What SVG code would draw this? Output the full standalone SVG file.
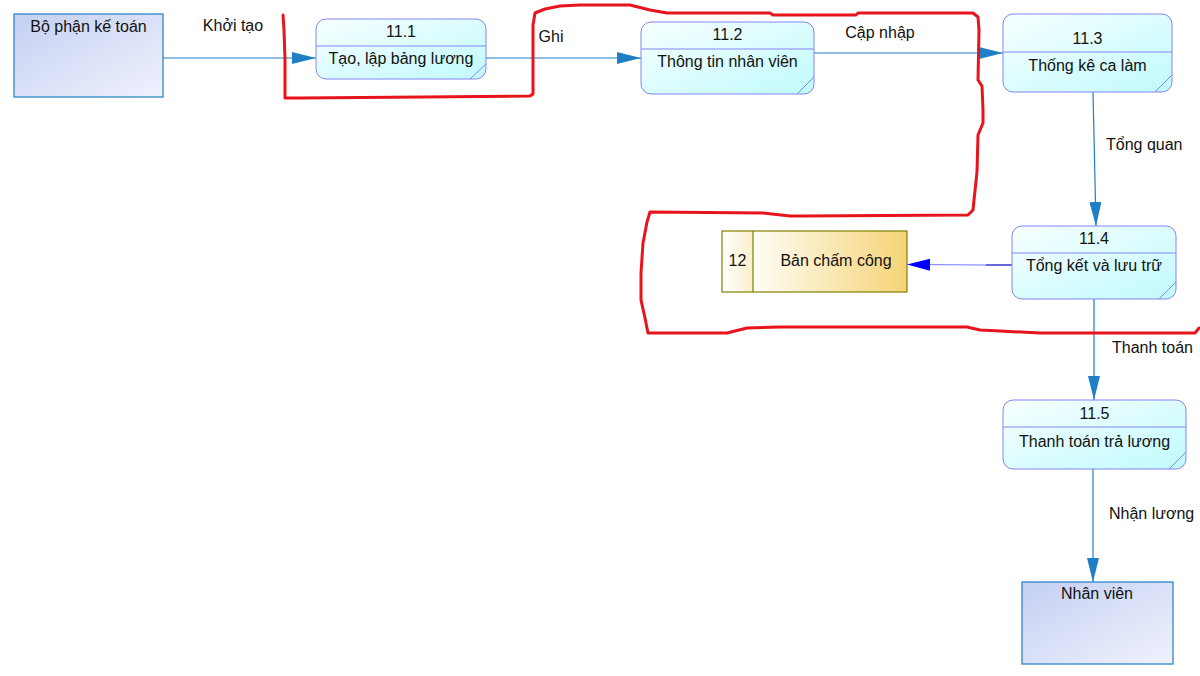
<svg xmlns="http://www.w3.org/2000/svg" width="1200" height="676" viewBox="0 0 1200 676">
<style>
text{font-family:"Liberation Sans",Arial,sans-serif;font-size:16px;fill:#111}
.c{text-anchor:middle}
.proc{fill:url(#procGrad);stroke:#8585f5;stroke-width:1}
.div{stroke:#8585f5;stroke-width:1}
.fold{stroke:#8585f5;stroke-width:1;fill:none}
.ent{fill:url(#entGrad);stroke:#1f7fc4;stroke-width:1.2}
.flow{stroke:#1f7fc4;stroke-width:1.2;fill:none;marker-end:url(#arr)}
.red{fill:none;stroke:#e8141c;stroke-width:3;stroke-linejoin:round;stroke-linecap:round}
</style>
<defs>
<linearGradient id="procGrad" x1="0" y1="0" x2="1" y2="1">
<stop offset="0" stop-color="#f8ffff"/>
<stop offset="1" stop-color="#c0fafd"/>
</linearGradient>
<linearGradient id="entGrad" x1="0" y1="0" x2="1" y2="1">
<stop offset="0" stop-color="#c4d0f2"/>
<stop offset="1" stop-color="#f0f2fd"/>
</linearGradient>
<linearGradient id="storeGrad" x1="0" y1="0" x2="1" y2="0">
<stop offset="0" stop-color="#fffdf6"/>
<stop offset="1" stop-color="#f5d375"/>
</linearGradient>
<linearGradient id="cellGrad" x1="0" y1="0" x2="1" y2="0">
<stop offset="0" stop-color="#ffffff"/>
<stop offset="1" stop-color="#fbefcc"/>
</linearGradient>
<marker id="arr" markerUnits="userSpaceOnUse" markerWidth="26" markerHeight="14" refX="24" refY="6" orient="auto">
<path d="M0,0 L24,6 L0,12 z" fill="#1f7fc4"/>
</marker>
<marker id="arrB" markerUnits="userSpaceOnUse" markerWidth="26" markerHeight="14" refX="23" refY="6" orient="auto">
<path d="M0,0 L23,6 L0,12 z" fill="#0000ff"/>
</marker>
</defs>
<rect width="1200" height="676" fill="#ffffff"/>

<g id="connectors">
<path class="flow" d="M163,58 H316"/>
<path class="flow" d="M486,58 H641"/>
<path class="flow" d="M814,53 H1003"/>
<path class="flow" d="M1093,92 L1096,226"/>
<path class="flow" d="M1094,299 V400"/>
<path class="flow" d="M1093,469 V582"/>
<path d="M1012,265 H986" stroke="#0000cc" stroke-width="1.2" fill="none"/>
<path d="M986,265 L907,264.5" stroke="#7878ff" stroke-width="1.2" fill="none" marker-end="url(#arrB)"/>
<text x="233" y="31" class="c">Khởi tạo</text>
<text x="551" y="42" class="c">Ghi</text>
<text x="880" y="38" class="c">Cập nhập</text>
<text x="1106" y="150">Tổng quan</text>
<text x="1112" y="353">Thanh toán</text>
<text x="1109" y="519">Nhận lương</text>
</g>

<g id="ke-toan">
<rect class="ent" x="14" y="14" width="149" height="83"/>
<text x="88.5" y="32" class="c">Bộ phận kế toán</text>
</g>

<g id="p11-1">
<rect class="proc" x="316" y="19" width="170" height="60" rx="10"/>
<line class="div" x1="316" y1="46" x2="486" y2="46"/>
<path class="fold" d="M470,79 L486,64"/>
<text x="401" y="37" class="c">11.1</text>
<text x="401" y="64" class="c">Tạo, lập bảng lương</text>
</g>

<g id="p11-2">
<rect class="proc" x="641" y="22" width="173" height="72" rx="10"/>
<line class="div" x1="641" y1="49" x2="814" y2="49"/>
<path class="fold" d="M797,94 L814,77"/>
<text x="727.5" y="40" class="c">11.2</text>
<text x="727.5" y="67" class="c">Thông tin nhân viên</text>
</g>

<g id="p11-3">
<rect class="proc" x="1003" y="14" width="169" height="78" rx="10"/>
<line class="div" x1="1003" y1="52" x2="1172" y2="52"/>
<path class="fold" d="M1155,92 L1172,75"/>
<text x="1087.5" y="44" class="c">11.3</text>
<text x="1087.5" y="71" class="c">Thống kê ca làm</text>
</g>

<g id="p11-4">
<rect class="proc" x="1012" y="226" width="164" height="73" rx="10"/>
<line class="div" x1="1012" y1="253" x2="1176" y2="253"/>
<path class="fold" d="M1159,299 L1176,282"/>
<text x="1094" y="244" class="c">11.4</text>
<text x="1094" y="271" class="c">Tổng kết và lưu trữ</text>
</g>

<g id="store-12">
<rect x="722" y="231" width="31" height="61" fill="url(#cellGrad)"/>
<rect x="753" y="231" width="154" height="61" fill="url(#storeGrad)"/>
<rect x="722" y="231" width="185" height="61" fill="none" stroke="#808000" stroke-width="1.2"/>
<line x1="753" y1="231" x2="753" y2="292" stroke="#808000" stroke-width="1.2"/>
<text x="737.5" y="266" class="c">12</text>
<text x="836" y="266" class="c">Bản chấm công</text>
</g>

<g id="p11-5">
<rect class="proc" x="1003" y="400" width="183" height="69" rx="10"/>
<line class="div" x1="1003" y1="427" x2="1186" y2="427"/>
<path class="fold" d="M1169,469 L1186,452"/>
<text x="1094.5" y="419" class="c">11.5</text>
<text x="1094.5" y="447" class="c">Thanh toán trả lương</text>
</g>

<g id="nhan-vien">
<rect class="ent" x="1022" y="582" width="151" height="82"/>
<text x="1097" y="599" class="c">Nhân viên</text>
</g>

<path class="red" d="M283,15 L284,30 L285,60 L285,98 L300,98 L423,97 L530,96 L533,94 L533,60 L533,25 L535,13 L545,9 L560,6 L580,5 L630,5 L650,10 L667,13 L770,13 L773,15 L856,15 L858,13 L973,13 L978,17 L979,30 L978,80 L982,86 L983,110 L983,123 L978,135 L977,172 L974,200 L973,210 L968,215 L803,216 L790,216 L763,213 L650,212 L647,222 L643,243 L641,273 L641,300 L645,318 L648,333 L700,333 L727,333 L747,328 L780,327 L967,327 L980,330 L1000,331 L1040,333 L1195,333 L1199,328"/>
</svg>
